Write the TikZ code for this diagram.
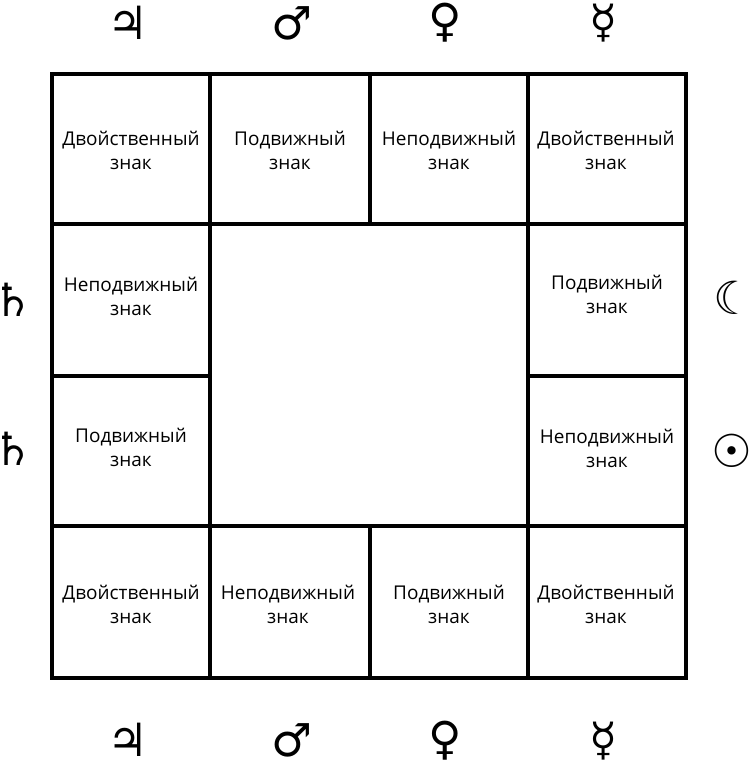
\documentclass[tikz,border=0pt]{standalone}
\usepackage{fontspec}
\setmainfont{Open Sans}
\newfontfamily\symfont{DejaVu Sans}
\usetikzlibrary{arrows}

\begin{document}
\begin{tikzpicture}[line cap=rect,line join=miter,x=0.02cm,y=-0.02cm,
    sign/.style={align=center,font=\fontsize{10.8}{13.6}\selectfont},
    planet/.style={inner sep=0pt,font=\symfont\fontsize{26}{26}\selectfont}]
    \useasboundingbox (0,0) rectangle (750,763);
    % grid
    \draw [line width=2.8pt] (52,74) rectangle (686,678);
    \draw [line width=2.3pt] (210,74) -- (210,678);
    \draw [line width=2.3pt] (528,74) -- (528,678);
    \draw [line width=2.8pt] (370,74) -- (370,224);
    \draw [line width=2.8pt] (370,526) -- (370,678);
    \draw [line width=2.3pt] (52,224) -- (686,224);
    \draw [line width=2.3pt] (52,526) -- (686,526);
    \draw [line width=2.3pt] (52,376) -- (210,376);
    \draw [line width=2.3pt] (528,376) -- (686,376);
    % signs
    \node [sign] (s11) at (131,150) {Двойственный\\знак};
    \node [sign] (s12) at (290,150) {Подвижный\\знак};
    \node [sign] (s13) at (449,150) {Неподвижный\\знак};
    \node [sign] (s14) at (606,150) {Двойственный\\знак};
    \node [sign] (s21) at (131,296) {Неподвижный\\знак};
    \node [sign] (s24) at (607,294) {Подвижный\\знак};
    \node [sign] (s31) at (131,447) {Подвижный\\знак};
    \node [sign] (s34) at (607,448) {Неподвижный\\знак};
    \node [sign] (s41) at (131,604) {Двойственный\\знак};
    \node [sign] (s42) at (288,604) {Неподвижный\\знак};
    \node [sign] (s43) at (449,604) {Подвижный\\знак};
    \node [sign] (s44) at (606,604) {Двойственный\\знак};
    % planets
    \node [planet] (jupT) at (128,23) {♃};
    \node [planet] (marT) at (292,23) {♂};
    \node [planet] (venT) at (445,23) {♀};
    \node [planet] (merT) at (604,23) {☿};
    \node [planet] (jupB) at (128,740) {♃};
    \node [planet] (marB) at (292,740) {♂};
    \node [planet] (venB) at (445,741) {♀};
    \node [planet] (merB) at (604,741) {☿};
    \node [planet] (satA) at (13,300) {♄};
    \node [planet] (satB) at (13,449) {♄};
    \node [planet] (moon) at (734,298) {☾};
    \node [planet] (sun) at (732,451) {☉};
\end{tikzpicture}
\end{document}
